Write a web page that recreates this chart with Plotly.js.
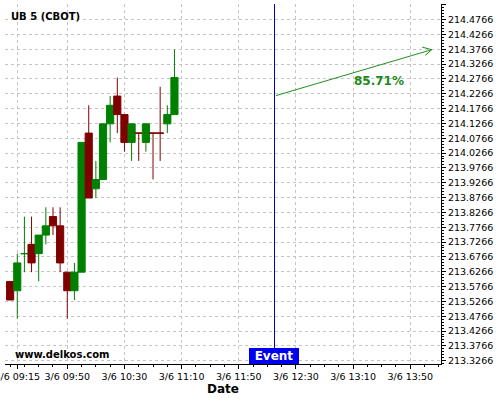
<!DOCTYPE html>
<html>
<head>
<meta charset="utf-8">
<script src="https://cdn.plot.ly/plotly-3.0.1.min.js"></script>
<style>html,body{margin:0;padding:0;background:#fff;}#chart{width:500px;height:400px;}</style>
</head>
<body>
<div id="chart"></div>
<script>
// ---- data ----
var candleTimes = [
  '2025-03-06 09:10','2025-03-06 09:15','2025-03-06 09:20','2025-03-06 09:25',
  '2025-03-06 09:30','2025-03-06 09:35','2025-03-06 09:40','2025-03-06 09:45',
  '2025-03-06 09:50','2025-03-06 09:55','2025-03-06 10:00','2025-03-06 10:05',
  '2025-03-06 10:10','2025-03-06 10:15','2025-03-06 10:20','2025-03-06 10:25',
  '2025-03-06 10:30','2025-03-06 10:35','2025-03-06 10:40','2025-03-06 10:45',
  '2025-03-06 10:50','2025-03-06 10:55','2025-03-06 11:00','2025-03-06 11:05'
];
var openVals  = [213.59375,213.5625,213.6875,213.71875,213.6875,213.75,213.8125,213.78125,
                 213.625,213.5625,213.625,214.09375,213.90625,213.9375,214.125,214.21875,
                 214.15625,214.0625,214.09375,214.0625,214.09375,214.09375,214.125,214.15625];
var highVals  = [213.59375,213.6875,213.8125,213.8125,213.75,213.84375,213.84375,213.84375,
                 213.625,213.65625,214.0625,214.1875,214.0,214.125,214.21875,214.28125,
                 214.15625,214.125,214.09375,214.125,214.09375,214.25,214.1875,214.375];
var lowVals   = [213.53125,213.46875,213.625,213.625,213.59375,213.71875,213.75,213.625,
                 213.46875,213.53125,213.625,213.875,213.875,213.9375,214.0625,214.09375,
                 214.03125,214.0,214.0,214.03125,213.9375,214.0,214.09375,214.15625];
var closeVals = [213.53125,213.65625,213.6875,213.65625,213.75,213.78125,213.78125,213.65625,
                 213.5625,213.625,214.0625,213.875,213.9375,214.125,214.1875,214.15625,
                 214.0625,214.125,214.09375,214.125,214.09375,214.09375,214.15625,214.28125];

var eventTime = '2025-03-06 12:15';
var arrowStart = {time: '2025-03-06 12:15', price: 214.21875};
var arrowEnd   = {time: '2025-03-06 14:05', price: 214.375};
var arrowLabel = '85.71%';
var arrowLabelPos = {time: '2025-03-06 13:27:54', price: 214.27};

var xTickVals = ['2025-03-06 09:15','2025-03-06 09:50','2025-03-06 10:30','2025-03-06 11:10',
                 '2025-03-06 11:50','2025-03-06 12:30','2025-03-06 13:10','2025-03-06 13:50'];
var xTickText = ['3/6 09:15','3/6 09:50','3/6 10:30','3/6 11:10','3/6 11:50','3/6 12:30','3/6 13:10','3/6 13:50'];
var yTickText = ['213.3266','213.3766','213.4266','213.4766','213.5266','213.5766','213.6266','213.6766',
                 '213.7266','213.7766','213.8266','213.8766','213.9266','213.9766','214.0266','214.0766',
                 '214.1266','214.1766','214.2266','214.2766','214.3266','214.3766','214.4266','214.4766','214.5266'];
var yTickVals = yTickText.map(Number);

var titleText = 'UB 5 (CBOT)';
var watermark = 'www.delkos.com';
var eventText = 'Event';

// ---- styles ----
var GREEN = '#008000', RED = '#800000';
var GRID = '#c4c4c4';
var FONT = 'DejaVu Sans';

var trace = {
  type: 'candlestick',
  x: candleTimes, open: openVals, high: highVals, low: lowVals, close: closeVals,
  increasing: {line: {color: GREEN, width: 1}, fillcolor: GREEN},
  decreasing: {line: {color: RED, width: 1}, fillcolor: RED},
  whiskerwidth: 0,
  hoverinfo: 'none'
};

var layout = {
  width: 500, height: 400,
  margin: {l: 5, r: 59, t: 4, b: 36},
  paper_bgcolor: '#fff', plot_bgcolor: '#fff',
  showlegend: false,
  boxgap: 0, boxgroupgap: 0,
  font: {family: FONT, color: '#000'},
  xaxis: {
    type: 'date',
    range: ['2025-03-06 09:06:25', '2025-03-06 14:11:31'],
    rangeslider: {visible: false},
    tickmode: 'array', tickvals: xTickVals, ticktext: xTickText,
    ticklabeloverflow: 'allow',
    tickfont: {family: FONT, size: 9.5, color: '#000'},
    ticks: 'outside', ticklen: 4, tickcolor: '#000', tickwidth: 1,
    minor: {ticks: 'outside', ticklen: 2, tickcolor: '#000', dtick: 600000, tick0: '2025-03-06 09:10', showgrid: false},
    showgrid: true, gridcolor: GRID, griddash: '3px,3px', gridwidth: 1,
    showline: true, linecolor: '#000', linewidth: 1,
    zeroline: false,
    title: {text: '<b>Date</b>', font: {family: FONT, size: 12, color: '#000'}, standoff: 3}
  },
  yaxis: {
    side: 'right',
    range: [213.3155, 214.529],
    tickmode: 'array', tickvals: yTickVals, ticktext: yTickText,
    tickfont: {family: FONT, size: 9.5, color: '#000'},
    ticks: 'outside', ticklen: 4, tickcolor: '#000', tickwidth: 1,
    minor: {ticks: 'outside', ticklen: 2, tickcolor: '#000', dtick: 0.01, tick0: 213.3266, showgrid: false},
    showgrid: true, gridcolor: GRID, griddash: '3px,3px', gridwidth: 1,
    showline: true, linecolor: '#000', linewidth: 1,
    zeroline: false
  },
  shapes: [
    {type: 'line', xref: 'x', yref: 'paper', x0: eventTime, x1: eventTime, y0: 0, y1: 1,
     line: {color: '#0000b0', width: 1}}
  ],
  annotations: [
    {xref: 'paper', yref: 'paper', x: 0, y: 1, xanchor: 'left', yanchor: 'middle', xshift: 4, yshift: -12,
     text: '<b>' + titleText + '</b>', showarrow: false, font: {family: FONT, size: 10, color: '#000'}},
    {xref: 'paper', yref: 'paper', x: 0, y: 0, xanchor: 'left', yanchor: 'middle', xshift: 8, yshift: 10,
     text: '<b>' + watermark + '</b>', showarrow: false, font: {family: FONT, size: 10, color: '#000'}},
    {xref: 'x', yref: 'paper', x: eventTime, y: 0, xanchor: 'center', yanchor: 'bottom',
     text: '<b>' + eventText + '</b>', showarrow: false, bgcolor: '#0000ee', borderpad: 1, borderwidth: 0,
     width: 48, height: 14, font: {family: FONT, size: 12, color: '#fff'}},
    {xref: 'x', yref: 'y', x: arrowEnd.time, y: arrowEnd.price, axref: 'x', ayref: 'y',
     ax: arrowStart.time, ay: arrowStart.price, text: '', showarrow: true, arrowhead: 0,
     arrowwidth: 1, arrowcolor: '#1f8f1f', standoff: 0, startstandoff: 0},
    {xref: 'x', yref: 'y', x: arrowEnd.time, y: arrowEnd.price, ax: -11, ay: -3, text: '',
     showarrow: true, arrowhead: 0, arrowwidth: 1, arrowcolor: '#1f8f1f', standoff: 0},
    {xref: 'x', yref: 'y', x: arrowEnd.time, y: arrowEnd.price, ax: -8, ay: 7, text: '',
     showarrow: true, arrowhead: 0, arrowwidth: 1, arrowcolor: '#1f8f1f', standoff: 0},
    {xref: 'x', yref: 'y', x: arrowLabelPos.time, y: arrowLabelPos.price, xanchor: 'center', yanchor: 'middle',
     text: '<b>' + arrowLabel + '</b>', showarrow: false, font: {family: FONT, size: 12, color: '#1a8a1a'}}
  ]
};

Plotly.newPlot('chart', [trace], layout, {staticPlot: true, displayModeBar: false});
</script>
</body>
</html>
